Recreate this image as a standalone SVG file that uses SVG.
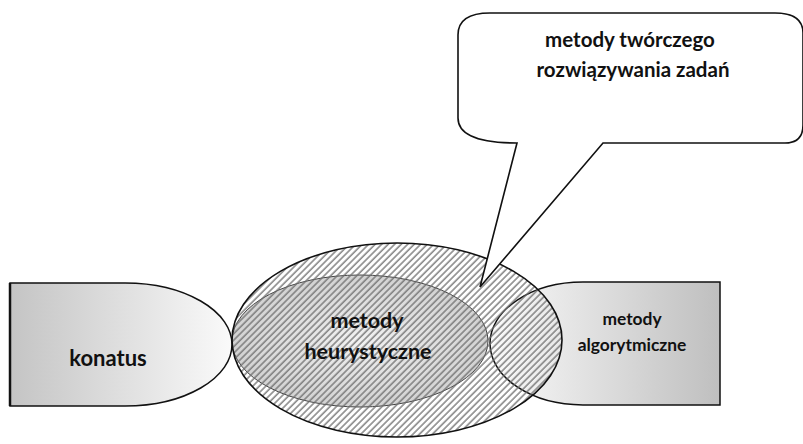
<svg xmlns="http://www.w3.org/2000/svg" width="803" height="444" viewBox="0 0 803 444">
<defs>
<linearGradient id="gKon" x1="0" y1="0" x2="1" y2="0">
<stop offset="0" stop-color="#c4c4c4"/>
<stop offset="1" stop-color="#fafafa"/>
</linearGradient>
<linearGradient id="gAlg" x1="0" y1="0" x2="1" y2="0">
<stop offset="0" stop-color="#fafafa"/>
<stop offset="1" stop-color="#bfbfbf"/>
</linearGradient>
<radialGradient id="gHeu" cx="0.5" cy="0.5" r="0.5">
<stop offset="0" stop-color="#f2f2f2"/>
<stop offset="1" stop-color="#d2d2d2"/>
</radialGradient>
<pattern id="hatch" patternUnits="userSpaceOnUse" width="4.6" height="10" patternTransform="rotate(45)">
<line x1="1" y1="0" x2="1" y2="10" stroke="#6e6e6e" stroke-width="1.3"/>
</pattern>
<style>
.lbl{font-family:"Lato","Open Sans","Liberation Sans",sans-serif;font-weight:bold;fill:#111;text-anchor:middle}
</style>
</defs>
<g id="konatus">
<path d="M10,283 H125 A107,61.5 0 0 1 125,406 H10 Z" fill="url(#gKon)" stroke="#111" stroke-width="1.5"/>
<line x1="10" y1="283" x2="10" y2="406" stroke="#111" stroke-width="2.5"/>
<text class="lbl" x="108" y="366" font-size="22">konatus</text>
</g>
<g id="obszar">
<ellipse cx="397" cy="340" rx="165" ry="97" fill="#fff"/>
</g>
<g id="heurystyczne">
<ellipse cx="360" cy="341" rx="128" ry="66" fill="url(#gHeu)" stroke="#444" stroke-width="1"/>
</g>
<g id="algorytmiczne">
<path d="M720,282 H583 A93,61.5 0 0 0 583,405 H720 Z" fill="url(#gAlg)" stroke="#111" stroke-width="1.5"/>
<text class="lbl" x="632" y="325" font-size="17.4">metody</text>
<text class="lbl" x="632" y="351" font-size="17.4">algorytmiczne</text>
</g>
<g id="obszar-kreskowanie">
<ellipse cx="397" cy="340" rx="165" ry="97" fill="url(#hatch)" stroke="#111" stroke-width="1.6"/>
<text class="lbl" x="367" y="328" font-size="21.5">metody</text>
<text class="lbl" x="368" y="359" font-size="21.5">heurystyczne</text>
</g>
<g id="dymek">
<path d="M517,143 L480,287 L603,143 H785 Q803,143 803,125 V33 Q803,13 775,13 H490 Q458,13 458,35 V118 Q458,143 517,143 Z" fill="#fff" stroke="#111" stroke-width="1.6" stroke-linejoin="miter"/>
<text class="lbl" x="630" y="47" font-size="20.5">metody twórczego</text>
<text class="lbl" x="633" y="77" font-size="20.5">rozwiązywania zadań</text>
</g>
</svg>
